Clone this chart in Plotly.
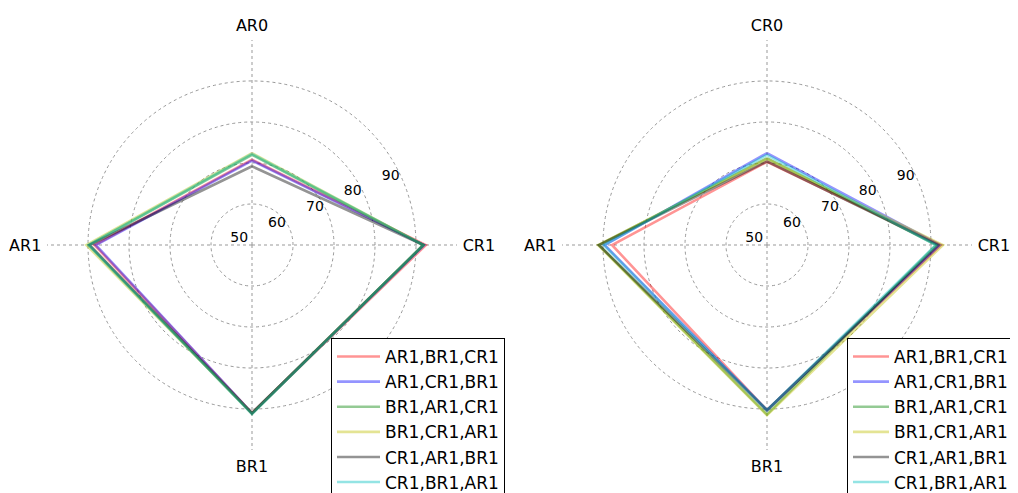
import plotly.graph_objects as go

# Data
series_names = ["AR1,BR1,CR1", "AR1,CR1,BR1", "BR1,AR1,CR1",
                "BR1,CR1,AR1", "CR1,AR1,BR1", "CR1,BR1,AR1"]
left_axes = ["AR0", "CR1", "BR1", "AR1"]
right_axes = ["CR0", "CR1", "BR1", "AR1"]

left_red = [70.8, 92.4, 91.0, 88.4]
left_blue = [70.6, 92.0, 91.0, 88.1]
left_green = [72.0, 91.8, 91.2, 89.8]
left_yellow = [72.4, 91.8, 91.0, 90.4]
left_gray = [69.2, 91.8, 91.0, 89.6]
left_cyan = [72.2, 91.8, 91.2, 89.9]

right_red = [70.3, 92.4, 90.3, 87.8]
right_blue = [72.4, 92.2, 90.3, 89.6]
right_green = [71.2, 91.3, 91.3, 91.0]
right_yellow = [71.0, 92.9, 91.5, 91.2]
right_gray = [70.4, 91.8, 90.3, 91.0]
right_cyan = [72.0, 91.2, 90.3, 89.8]

radial_ticks = [50, 60, 70, 80, 90]

colors = ["rgba(255,0,0,0.42)", "rgba(0,0,255,0.42)", "rgba(0,128,0,0.42)",
          "rgba(191,191,0,0.42)", "rgba(0,0,0,0.42)", "rgba(0,191,191,0.42)"]

left_data = [left_red, left_blue, left_green, left_yellow, left_gray, left_cyan]
right_data = [right_red, right_blue, right_green, right_yellow, right_gray, right_cyan]

OFF = 8  # page body margin (px) in front of the figure
W, H = 1018 - OFF, 493 - OFF

fig = go.Figure()
for name, vals, col in zip(series_names, left_data, colors):
    fig.add_trace(go.Scatterpolar(
        r=vals + vals[:1], theta=left_axes + left_axes[:1], mode="lines",
        name=name, line=dict(color=col, width=2.6), subplot="polar",
        legend="legend", legendgroup="L" + name))
for name, vals, col in zip(series_names, right_data, colors):
    fig.add_trace(go.Scatterpolar(
        r=vals + vals[:1], theta=right_axes + right_axes[:1], mode="lines",
        name=name, line=dict(color=col, width=2.6), subplot="polar2",
        legend="legend2", legendgroup="R" + name))

font_family = "DejaVu Sans"


def px_x(a, b):
    return [(a - OFF) / W, (b - OFF) / W]


def px_y(top, bottom):
    return [(H - (bottom - OFF)) / H, (H - (top - OFF)) / H]


def polar_layout(domain_x):
    return dict(
        domain=dict(x=domain_x, y=px_y(40, 450)),
        bgcolor="white",
        hole=0,
        radialaxis=dict(
            range=[50, 100], tickvals=radial_ticks, ticktext=[str(v) for v in radial_ticks],
            angle=22.5, tickangle=22.5, side="counterclockwise",
            showline=False, ticks="",
            gridcolor="#999999", griddash="dot", gridwidth=1,
            tickfont=dict(family=font_family, size=14, color="black"),
        ),
        angularaxis=dict(
            rotation=90, direction="clockwise", showline=False,
            ticks="outside", ticklen=2, tickcolor="rgba(0,0,0,0)",
            gridcolor="#999999", griddash="dot", gridwidth=1,
            tickfont=dict(family=font_family, size=16, color="black"),
        ),
    )


legend_common = dict(
    bgcolor="white", bordercolor="black", borderwidth=1,
    font=dict(family=font_family, size=17, color="black"),
    yanchor="top", xanchor="left", tracegroupgap=0,
)

fig.update_layout(
    width=W, height=H,
    margin=dict(l=0, r=0, t=0, b=0, autoexpand=False),
    paper_bgcolor="white",
    font=dict(family=font_family),
    polar=polar_layout(px_x(47, 457)),
    polar2=polar_layout(px_x(562, 972)),
    legend=dict(x=(331 - OFF) / W, y=(H - (338 - OFF)) / H, itemwidth=43, **legend_common),
    legend2=dict(x=(847 - OFF) / W, y=(H - (338 - OFF)) / H, itemwidth=36, **legend_common),
    showlegend=True,
)

fig.write_html("out.html")
